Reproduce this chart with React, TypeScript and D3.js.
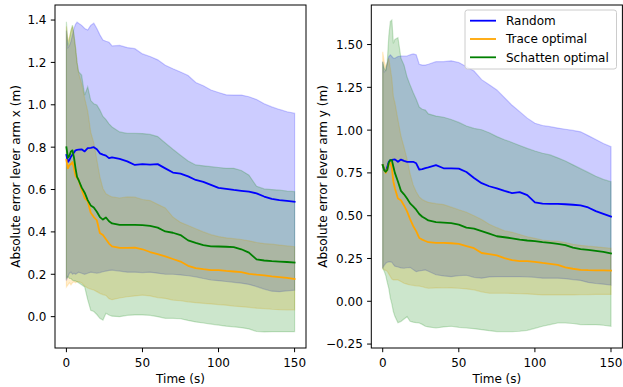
import React from "react";
import * as d3 from "d3";

// Time samples (s)
const T = [0, 1, 2, 3, 4, 5, 6, 7, 8,
  10, 12, 14, 16, 18, 20, 22, 24, 26, 28, 30,
  35, 40, 45, 50, 55, 60, 65, 70, 75, 80, 85, 90, 95, 100, 105, 110, 115, 120, 125, 130, 135, 140, 145, 150];

// ---- Lever arm x ----
const xRandomMean = [0.763, 0.73, 0.74, 0.755, 0.765, 0.775, 0.785, 0.787, 0.788,
  0.79, 0.78, 0.795, 0.797, 0.8, 0.79, 0.771, 0.765, 0.76, 0.748, 0.752,
  0.745, 0.733, 0.716, 0.72, 0.718, 0.72, 0.7, 0.68, 0.675, 0.662, 0.645, 0.636, 0.622, 0.608, 0.603, 0.598, 0.594, 0.59, 0.582, 0.567, 0.556, 0.55, 0.546, 0.542];
const xRandomUpper = [1.35, 1.27, 1.28, 1.3, 1.33, 1.36, 1.38, 1.39, 1.385,
  1.375, 1.36, 1.353, 1.375, 1.385, 1.36, 1.33, 1.306, 1.3, 1.295, 1.278,
  1.28, 1.27, 1.265, 1.24, 1.228, 1.212, 1.187, 1.17, 1.155, 1.138, 1.105, 1.09, 1.07, 1.058, 1.047, 1.046, 1.046, 1.038, 1.025, 1.005, 0.99, 0.978, 0.967, 0.96];
const xRandomLower = [0.17, 0.19, 0.205, 0.21, 0.2, 0.205, 0.2, 0.205, 0.21,
  0.205, 0.2, 0.205, 0.21, 0.208, 0.205, 0.208, 0.212, 0.215, 0.218, 0.22,
  0.215, 0.21, 0.21, 0.208, 0.21, 0.205, 0.2, 0.2, 0.197, 0.193, 0.188, 0.18, 0.173, 0.17, 0.166, 0.162, 0.158, 0.152, 0.142, 0.13, 0.12, 0.118, 0.122, 0.125];

const xTraceMean = [0.74, 0.7, 0.715, 0.72, 0.73, 0.7, 0.665, 0.655, 0.645,
  0.6, 0.56, 0.545, 0.49, 0.47, 0.455, 0.395, 0.385, 0.365, 0.345, 0.332,
  0.325, 0.325, 0.326, 0.318, 0.305, 0.295, 0.284, 0.272, 0.26, 0.24, 0.229, 0.224, 0.22, 0.22, 0.216, 0.213, 0.21, 0.202, 0.198, 0.195, 0.19, 0.187, 0.183, 0.178];
const xTraceUpper = [1.37, 1.3, 1.32, 1.35, 1.37, 1.32, 1.27, 1.2, 1.15,
  1.1, 1.03, 0.97, 0.87, 0.82, 0.74, 0.66, 0.605, 0.58, 0.572, 0.565,
  0.56, 0.565, 0.564, 0.553, 0.548, 0.53, 0.513, 0.47, 0.445, 0.43, 0.415, 0.4, 0.387, 0.378, 0.372, 0.368, 0.364, 0.358, 0.35, 0.345, 0.342, 0.338, 0.334, 0.33];
const xTraceLower = [0.14, 0.15, 0.16, 0.15, 0.16, 0.165, 0.16, 0.165, 0.165,
  0.16, 0.145, 0.135, 0.13, 0.126, 0.118, 0.11, 0.104, 0.1, 0.085, 0.08,
  0.088, 0.094, 0.098, 0.102, 0.098, 0.09, 0.086, 0.078, 0.075, 0.07, 0.066, 0.063, 0.06, 0.057, 0.054, 0.05, 0.047, 0.044, 0.04, 0.038, 0.035, 0.033, 0.032, 0.032];

const xSchattenMean = [0.8, 0.75, 0.76, 0.78, 0.785, 0.75, 0.7, 0.66, 0.645,
  0.61, 0.585, 0.55, 0.525, 0.515, 0.495, 0.47, 0.458, 0.468, 0.45, 0.44,
  0.433, 0.433, 0.433, 0.432, 0.428, 0.42, 0.402, 0.396, 0.385, 0.36, 0.348, 0.338, 0.332, 0.331, 0.33, 0.328, 0.318, 0.302, 0.27, 0.265, 0.262, 0.26, 0.258, 0.255];
const xSchattenUpper = [1.392, 1.28, 1.31, 1.35, 1.376, 1.33, 1.27, 1.2, 1.156,
  1.14, 1.046, 1.085, 1.02, 1.005, 0.999, 0.975, 0.945, 0.93, 0.91, 0.895,
  0.872, 0.865, 0.865, 0.864, 0.86, 0.85, 0.82, 0.79, 0.762, 0.735, 0.716, 0.712, 0.708, 0.704, 0.7, 0.7, 0.69, 0.668, 0.615, 0.603, 0.6, 0.597, 0.593, 0.59];
const xSchattenLower = [0.181, 0.19, 0.18, 0.18, 0.172, 0.17, 0.168, 0.165, 0.16,
  0.15, 0.14, 0.08, 0.03, 0.024, 0.01, -0.008, -0.016, 0.016, 0.008, 0.002,
  0.0, 0.006, 0.008, 0.008, 0.006, 0.0, -0.008, -0.008, -0.01, -0.018, -0.025, -0.03, -0.035, -0.04, -0.045, -0.048, -0.052, -0.058, -0.07, -0.072, -0.071, -0.071, -0.071, -0.071];

// ---- Lever arm y ----
const yRandomMean = [0.796, 0.77, 0.757, 0.785, 0.815, 0.825, 0.826, 0.828, 0.829,
  0.815, 0.828, 0.82, 0.815, 0.815, 0.815, 0.806, 0.77, 0.772, 0.778, 0.782,
  0.795, 0.777, 0.777, 0.775, 0.755, 0.72, 0.69, 0.672, 0.66, 0.645, 0.632, 0.638, 0.62, 0.578, 0.57, 0.569, 0.569, 0.567, 0.564, 0.56, 0.548, 0.527, 0.511, 0.495];
const yRandomUpper = [1.4, 1.34, 1.35, 1.39, 1.43, 1.44, 1.43, 1.42, 1.42,
  1.43, 1.433, 1.433, 1.433, 1.44, 1.445, 1.44, 1.385, 1.38, 1.38, 1.385,
  1.4, 1.4, 1.405, 1.395, 1.37, 1.345, 1.295, 1.265, 1.235, 1.19, 1.145, 1.108, 1.07, 1.04, 1.027, 1.02, 1.012, 1.005, 0.998, 0.99, 0.968, 0.945, 0.922, 0.903];
const yRandomLower = [0.193, 0.21, 0.222, 0.228, 0.23, 0.23, 0.228, 0.215, 0.205,
  0.2, 0.195, 0.193, 0.196, 0.198, 0.185, 0.173, 0.178, 0.18, 0.183, 0.175,
  0.155, 0.148, 0.144, 0.15, 0.152, 0.14, 0.135, 0.142, 0.144, 0.144, 0.144, 0.144, 0.143, 0.14, 0.135, 0.135, 0.135, 0.132, 0.127, 0.122, 0.11, 0.104, 0.1, 0.095];

const yTraceMean = [0.796, 0.77, 0.75, 0.77, 0.8, 0.81, 0.78, 0.7, 0.66,
  0.6, 0.59, 0.56, 0.525, 0.48, 0.44, 0.41, 0.37, 0.36, 0.352, 0.345,
  0.341, 0.341, 0.339, 0.335, 0.322, 0.31, 0.282, 0.276, 0.268, 0.252, 0.24, 0.234, 0.234, 0.23, 0.224, 0.219, 0.213, 0.198, 0.19, 0.184, 0.182, 0.181, 0.18, 0.179];
const yTraceUpper = [1.458, 1.4, 1.37, 1.39, 1.42, 1.36, 1.3, 1.195, 1.16,
  1.06, 0.965, 0.9, 0.83, 0.745, 0.68, 0.64, 0.61, 0.595, 0.585, 0.578,
  0.57, 0.565, 0.55, 0.535, 0.52, 0.5, 0.478, 0.45, 0.43, 0.412, 0.403, 0.39, 0.377, 0.368, 0.358, 0.353, 0.35, 0.343, 0.333, 0.327, 0.322, 0.318, 0.314, 0.31];
const yTraceLower = [0.19, 0.185, 0.18, 0.175, 0.16, 0.145, 0.13, 0.125, 0.125,
  0.125, 0.115, 0.105, 0.1, 0.095, 0.093, 0.09, 0.089, 0.085, 0.08, 0.076,
  0.078, 0.08, 0.078, 0.076, 0.072, 0.067, 0.055, 0.047, 0.047, 0.047, 0.046, 0.044, 0.043, 0.04, 0.037, 0.037, 0.037, 0.037, 0.037, 0.038, 0.039, 0.04, 0.04, 0.04];

const ySchattenMean = [0.796, 0.765, 0.757, 0.767, 0.81, 0.825, 0.825, 0.786, 0.75,
  0.7, 0.645, 0.625, 0.6, 0.572, 0.555, 0.535, 0.51, 0.494, 0.483, 0.472,
  0.462, 0.46, 0.456, 0.448, 0.43, 0.424, 0.41, 0.395, 0.38, 0.374, 0.368, 0.36, 0.355, 0.352, 0.346, 0.341, 0.335, 0.328, 0.313, 0.305, 0.3, 0.295, 0.289, 0.279];
const ySchattenUpper = [1.4, 1.36, 1.35, 1.4, 1.55, 1.635, 1.643, 1.507, 1.53,
  1.54, 1.42, 1.38, 1.31, 1.263, 1.22, 1.18, 1.135, 1.122, 1.117, 1.095,
  1.082, 1.075, 1.062, 1.045, 1.024, 1.01, 1.002, 0.985, 0.962, 0.944, 0.928, 0.91, 0.893, 0.878, 0.865, 0.855, 0.838, 0.82, 0.797, 0.775, 0.753, 0.73, 0.712, 0.699];
const ySchattenLower = [0.193, 0.175, 0.15, 0.11, 0.075, 0.02, -0.015, -0.06, -0.088,
  -0.125, -0.118, -0.104, -0.09, -0.117, -0.122, -0.125, -0.127, -0.135, -0.146, -0.15,
  -0.156, -0.15, -0.146, -0.152, -0.156, -0.16, -0.166, -0.172, -0.177, -0.177, -0.177, -0.175, -0.17, -0.158, -0.146, -0.136, -0.127, -0.127, -0.13, -0.136, -0.137, -0.137, -0.14, -0.146];

const seriesNames = ["Random", "Trace optimal", "Schatten optimal"];
const seriesColors = ["#0000ff", "#ffa500", "#008000"];
const xTicks = [0, 50, 100, 150];
const leftYTicks = [0.0, 0.2, 0.4, 0.6, 0.8, 1.0, 1.2, 1.4];
const rightYTicks = [-0.25, 0.0, 0.25, 0.5, 0.75, 1.0, 1.25, 1.5];

const FONT = "DejaVu Sans, sans-serif";
const FS = 12;

type Series = { mean: number[]; lower: number[]; upper: number[] };

function Panel(props: {
  left: number; right: number; top: number; bottom: number;
  yDomain: [number, number]; yTicks: number[]; yFmt: (v: number) => string;
  yLabel: string; yLabelX: number; series: Series[]; children?: React.ReactNode;
}) {
  const { left, right, top, bottom, yDomain, yTicks, yFmt, yLabel, yLabelX, series } = props;
  const x = d3.scaleLinear().domain([-7.5, 157.5]).range([left, right]);
  const y = d3.scaleLinear().domain(yDomain).range([bottom, top]);
  const area = d3.area<number>()
    .x((_, i) => x(T[i]))
    .y0((_, i) => 0)
    .y1((_, i) => 0);
  const line = d3.line<number>().x((_, i) => x(T[i])).y((v) => y(v));
  const tickLen = 4.2;
  return (
    <g>
      {series.map((s, k) => {
        const a = d3.area<number>()
          .x((_, i) => x(T[i]))
          .y0((_, i) => y(s.lower[i]))
          .y1((_, i) => y(s.upper[i]));
        return (
          <path key={"f" + k} d={a(s.mean) || ""} fill={seriesColors[k]} fillOpacity={0.2}
            stroke={seriesColors[k]} strokeOpacity={0.2} strokeWidth={1.2} />
        );
      })}
      {series.map((s, k) => (
        <path key={"l" + k} d={line(s.mean) || ""} fill="none" stroke={seriesColors[k]}
          strokeWidth={1.8} strokeLinejoin="round" strokeLinecap="square" />
      ))}
      <rect x={left} y={top} width={right - left} height={bottom - top} fill="none" stroke="#000" strokeWidth={1} />
      {xTicks.map((t) => (
        <g key={"xt" + t}>
          <line x1={x(t)} x2={x(t)} y1={bottom} y2={bottom + tickLen} stroke="#000" strokeWidth={1} />
          <text x={x(t)} y={bottom + 18.5} textAnchor="middle" fontFamily={FONT} fontSize={FS} fill="#000">{t}</text>
        </g>
      ))}
      {yTicks.map((v) => (
        <g key={"yt" + v}>
          <line x1={left - tickLen} x2={left} y1={y(v)} y2={y(v)} stroke="#000" strokeWidth={1} />
          <text x={left - 8.5} y={y(v) + 4.4} textAnchor="end" fontFamily={FONT} fontSize={FS} fill="#000">{yFmt(v)}</text>
        </g>
      ))}
      <text x={(left + right) / 2} y={383} textAnchor="middle" fontFamily={FONT} fontSize={FS} fill="#000">Time (s)</text>
      <text transform={`translate(${yLabelX},${(top + bottom) / 2}) rotate(-90)`} textAnchor="middle"
        fontFamily={FONT} fontSize={FS} fill="#000">{yLabel}</text>
      {props.children}
    </g>
  );
}

export default function App() {
  const leftSeries: Series[] = [
    { mean: xRandomMean, lower: xRandomLower, upper: xRandomUpper },
    { mean: xTraceMean, lower: xTraceLower, upper: xTraceUpper },
    { mean: xSchattenMean, lower: xSchattenLower, upper: xSchattenUpper },
  ];
  const rightSeries: Series[] = [
    { mean: yRandomMean, lower: yRandomLower, upper: yRandomUpper },
    { mean: yTraceMean, lower: yTraceLower, upper: yTraceUpper },
    { mean: ySchattenMean, lower: ySchattenLower, upper: ySchattenUpper },
  ];
  const fmt1 = (v: number) => v.toFixed(1);
  const fmt2 = (v: number) => (v < 0 ? "\u2212" + Math.abs(v).toFixed(2) : v.toFixed(2));
  const legendY = [20.7, 39, 57.3];
  return (
    <svg width={623} height={387} style={{ position: "absolute", left: 0, top: 0 }}>
      <rect width={623} height={387} fill="#fff" />
      <Panel left={55} right={306} top={5} bottom={348} yDomain={[-0.148, 1.471]}
        yTicks={leftYTicks} yFmt={fmt1} yLabel="Absolute error lever arm x (m)" yLabelX={20}
        series={leftSeries} />
      <Panel left={371.3} right={622.4} top={5} bottom={348} yDomain={[-0.273, 1.731]}
        yTicks={rightYTicks} yFmt={fmt2} yLabel="Absolute error lever arm y (m)" yLabelX={326.7}
        series={rightSeries}>
        <rect x={465} y={10} width={151.5} height={59} rx={2.5} fill="#fff" fillOpacity={0.8}
          stroke="#cccccc" strokeWidth={1} />
        {seriesNames.map((n, k) => (
          <g key={n}>
            <line x1={470} x2={496} y1={legendY[k]} y2={legendY[k]} stroke={seriesColors[k]} strokeWidth={1.8} />
            <text x={506} y={legendY[k] + 4.4} fontFamily={FONT} fontSize={FS} fill="#000">{n}</text>
          </g>
        ))}
      </Panel>
    </svg>
  );
}
